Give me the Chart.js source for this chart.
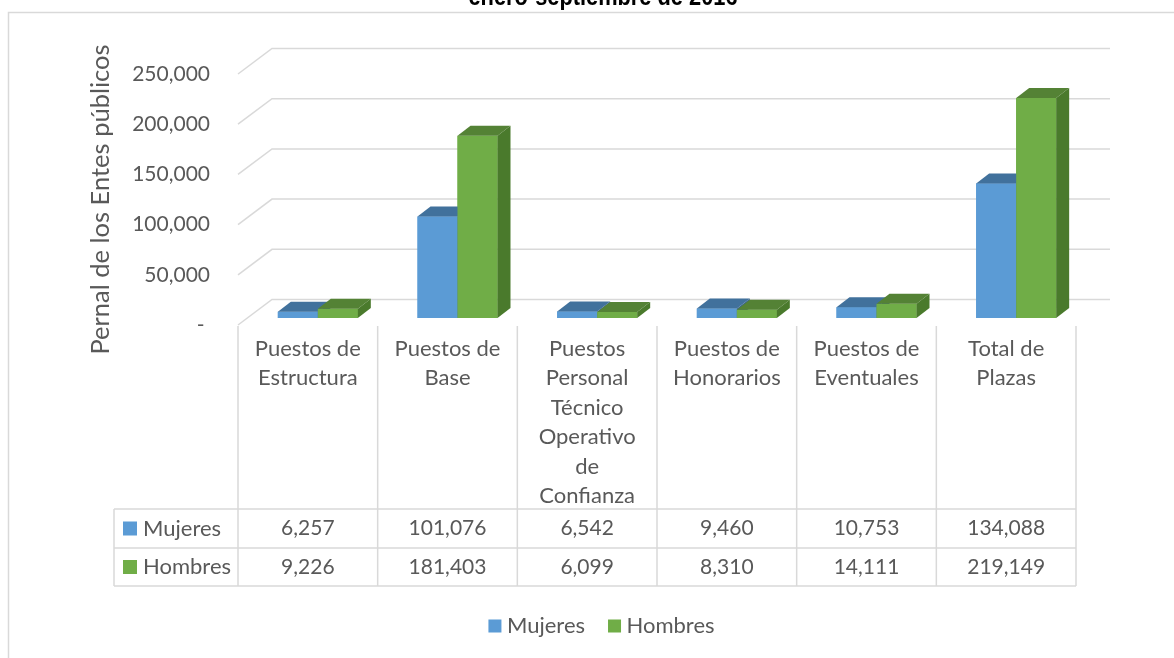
<!DOCTYPE html>
<html><head><meta charset="utf-8">
<script src="https://cdn.jsdelivr.net/npm/chart.js@4.4.1/dist/chart.umd.min.js"></script>
<style>html,body{margin:0;padding:0;background:#fff;}#wrap{width:1174px;height:658px;position:relative;}</style>
</head><body><div id="wrap"><canvas id="c"></canvas></div>
<script>
const categories = [["Puestos de","Estructura"],["Puestos de","Base"],["Puestos","Personal","Técnico","Operativo","de","Confianza"],["Puestos de","Honorarios"],["Puestos de","Eventuales"],["Total de","Plazas"]];
const seriesNames = ["Mujeres","Hombres"];
const mujeres = [6257,101076,6542,9460,10753,134088];
const hombres = [9226,181403,6099,8310,14111,219149];
const yTicks = [0,50000,100000,150000,200000,250000];
const chartTitle = "enero-septiembre de 2016";
const yAxisTitle = "Pernal de los Entes públicos";

const FONT = 'Lato, "Open Sans", sans-serif';
const TXT = '#595959';
const GRID = '#d9d9d9';
const FRONT = ['#5B9BD5', '#70AD47'];
const TOP = ['#41719C', '#548235'];
const SIDE = ['#3A6690', '#4A7A2C'];
const fmt = v => v.toLocaleString('en-US');

const excel3d = {
  id: 'excel3d',
  beforeDraw(chart) {
    const ctx = chart.ctx;
    ctx.save();
    ctx.fillStyle = '#fff';
    ctx.fillRect(0, 0, chart.width, chart.height);
    ctx.strokeStyle = GRID; ctx.lineWidth = 1.5;
    ctx.beginPath();
    ctx.moveTo(8.5, chart.height); ctx.lineTo(8.5, 12.5); ctx.lineTo(chart.width, 12.5);
    ctx.stroke();
    ctx.fillStyle = '#000';
    ctx.font = 'bold 26px "Liberation Sans Narrow", "Liberation Sans", sans-serif';
    ctx.textAlign = 'center'; ctx.textBaseline = 'alphabetic';
    const tw = ctx.measureText(chartTitle).width;
    ctx.translate(603, 5);
    ctx.scale(269 / tw, 1);
    ctx.fillText(chartTitle, 0, 0);
    ctx.restore();
  },
  beforeDatasetsDraw(chart) {
    const ctx = chart.ctx, ys = chart.scales.y, xs = chart.scales.x;
    ctx.save();
    ctx.strokeStyle = GRID; ctx.lineWidth = 1.5;
    yTicks.forEach(v => {
      const yf = ys.getPixelForValue(v);
      ctx.beginPath();
      ctx.moveTo(xs.left, yf);
      ctx.lineTo(xs.left + 34, yf - 25.5);
      ctx.lineTo(xs.right + 34, yf - 25.5);
      ctx.stroke();
    });
    ctx.restore();
    ctx.save();
    ctx.translate(10, -7);
  },
  afterDatasetsDraw(chart) {
    const ctx = chart.ctx;
    const dx = 13, dy = -10;
    const metas = [chart.getDatasetMeta(0), chart.getDatasetMeta(1)];
    for (let i = 0; i < categories.length; i++) {
      for (let d = 0; d < 2; d++) {
        const el = metas[d].data[i];
        const p = el.getProps(['x', 'y', 'base', 'width'], true);
        const l = p.x - p.width / 2, r = p.x + p.width / 2;
        ctx.fillStyle = FRONT[d];
        ctx.fillRect(l, p.y, p.width, p.base - p.y);
        ctx.fillStyle = TOP[d];
        ctx.beginPath();
        ctx.moveTo(l, p.y); ctx.lineTo(l + dx, p.y + dy); ctx.lineTo(r + dx, p.y + dy); ctx.lineTo(r, p.y);
        ctx.closePath(); ctx.fill();
        ctx.fillStyle = SIDE[d];
        ctx.beginPath();
        ctx.moveTo(r, p.y); ctx.lineTo(r + dx, p.y + dy); ctx.lineTo(r + dx, p.base + dy); ctx.lineTo(r, p.base);
        ctx.closePath(); ctx.fill();
      }
    }
    ctx.restore();
  },
  afterDraw(chart) {
    const ctx = chart.ctx, xs = chart.scales.x;
    const w = (xs.right - xs.left) / categories.length;
    const headTop = 326, rowTops = [509, 548], bottom = 586, labelLeft = 114;
    ctx.save();
    ctx.strokeStyle = GRID; ctx.lineWidth = 1.5;
    ctx.beginPath();
    for (let i = 0; i <= categories.length; i++) {
      const x = xs.getPixelForValue(0) - w / 2 + i * w;
      ctx.moveTo(x, headTop); ctx.lineTo(x, bottom);
    }
    ctx.moveTo(labelLeft, rowTops[0]); ctx.lineTo(labelLeft, bottom);
    [rowTops[0], rowTops[1], bottom].forEach(y => { ctx.moveTo(labelLeft, y); ctx.lineTo(xs.right, y); });
    ctx.stroke();
    const rows = [mujeres, hombres];
    ctx.textBaseline = 'middle';
    rows.forEach((vals, r) => {
      const top = rowTops[r];
      const bot = r === 0 ? rowTops[1] : bottom;
      const cy = (top + bot) / 2;
      ctx.fillStyle = FRONT[r];
      ctx.fillRect(123, cy - 7, 14, 14);
      ctx.fillStyle = TXT;
      ctx.textAlign = 'left';
      ctx.font = '22px ' + FONT;
      ctx.fillText(seriesNames[r], 143, cy);
      ctx.textAlign = 'center';
      ctx.font = '21px ' + FONT;
      vals.forEach((v, i) => ctx.fillText(fmt(v), xs.getPixelForValue(i), cy));
    });
    // legend
    ctx.font = '22px ' + FONT;
    const boxW = 13, gapBox = 5.5, gapItem = 23, legendCx = 601.5, legendCy = 626;
    const widths = seriesNames.map(n => boxW + gapBox + ctx.measureText(n).width);
    const total = widths.reduce((a, b) => a + b, 0) + gapItem * (seriesNames.length - 1);
    let x = legendCx - total / 2;
    seriesNames.forEach((n, i) => {
      ctx.fillStyle = FRONT[i];
      ctx.fillRect(x, legendCy - 6.5, boxW, boxW);
      ctx.fillStyle = TXT;
      ctx.textAlign = 'left';
      ctx.fillText(chart.data.datasets[i].label, x + boxW + gapBox, legendCy);
      x += widths[i] + gapItem;
    });
    ctx.restore();
  }
};

new Chart(document.getElementById('c'), {
  type: 'bar',
  data: {
    labels: categories,
    datasets: [
      { label: seriesNames[0], data: mujeres, backgroundColor: FRONT[0], borderWidth: 0 },
      { label: seriesNames[1], data: hombres, backgroundColor: FRONT[1], borderWidth: 0 }
    ]
  },
  options: {
    responsive: true,
    maintainAspectRatio: false,
    animation: false,
    datasets: { bar: { categoryPercentage: 80 / 139.67, barPercentage: 1 } },
    layout: { padding: { left: 85, right: 98, top: 74, bottom: 20 } },
    plugins: {
      legend: { display: false },
      tooltip: { enabled: false },
      title: { display: false }
    },
    scales: {
      x: {
        grid: { display: false, drawTicks: false },
        border: { display: false },
        ticks: { color: TXT, font: { family: FONT, size: 22, lineHeight: 29.5 / 22 }, padding: 9, maxRotation: 0, autoSkip: false },
        afterFit: s => { s.height = 658 - 20 - 325; }
      },
      y: {
        min: 0, max: 250000,
        afterBuildTicks: s => { s.ticks = yTicks.map(v => ({ value: v })); },
        grid: { display: false, drawTicks: false },
        border: { display: false },
        ticks: { color: TXT, font: { family: FONT, size: 21 }, padding: 28, callback: v => v === 0 ? '- ' : fmt(v) },
        title: { display: true, text: yAxisTitle, color: TXT, font: { family: FONT, size: 25.5 }, padding: 0 },
        afterFit: s => { s.width = 238 - 85; }
      }
    }
  },
  plugins: [excel3d]
});
</script></body></html>
